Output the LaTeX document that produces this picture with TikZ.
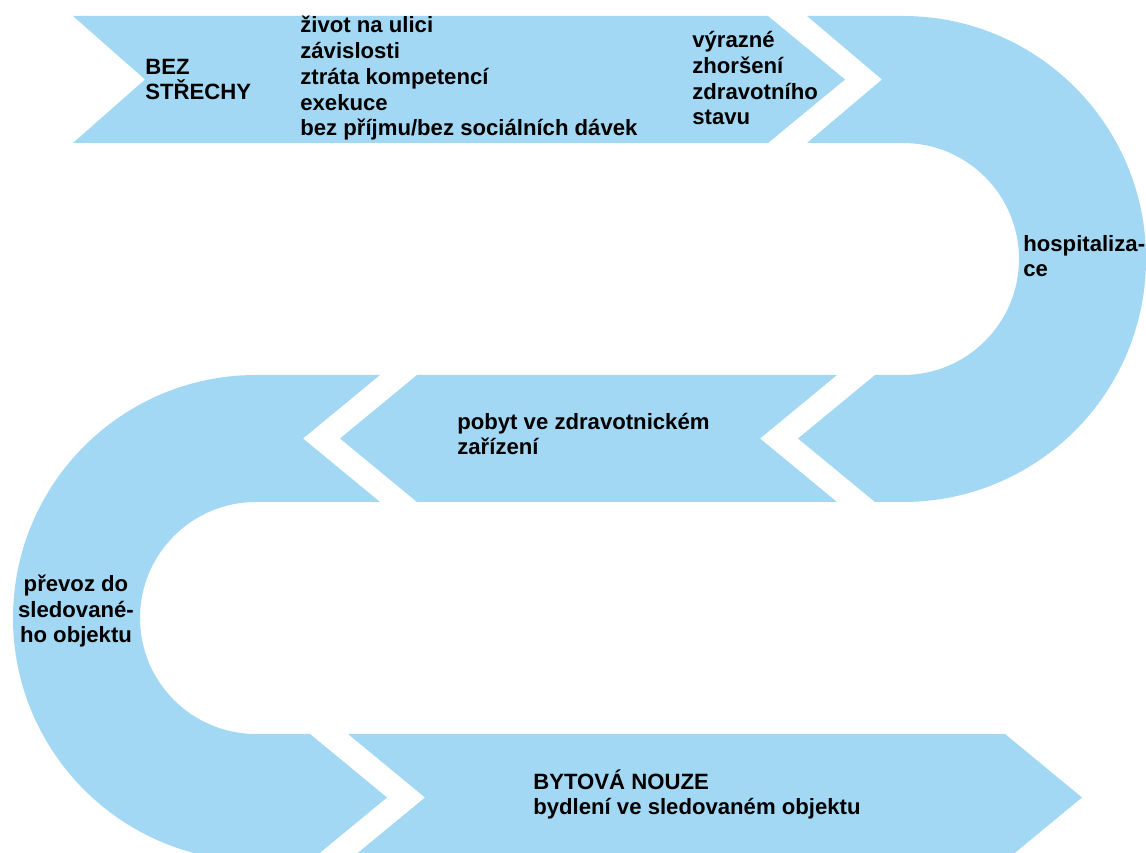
\documentclass[tikz,border=0pt]{standalone}
\usepackage{fontspec}
\setmainfont{Liberation Sans}
\definecolor{bandblue}{RGB}{163,216,244}
\tikzset{
  band/.style={fill=bandblue, draw=none},
  label/.style={inner sep=0pt, anchor=base west, align=left,
    font=\fontsize{12.6}{14.7}\selectfont\bfseries}
}
\begin{document}
\begin{tikzpicture}[x=0.02cm, y=0.02cm]
  \useasboundingbox (0,0) rectangle (1146,852);
  \begin{scope}
    \fill[band] (73,836) -- (768,836) -- (845,772.5) -- (768,709) -- (73,709) -- (145,772.5) -- cycle;
    \fill[band] (807,836) -- (903,836) arc[start angle=90, end angle=-90, radius=243]
      -- (875,350) -- (798,413.5) -- (875,477) -- (903,477)
      arc[start angle=-90, end angle=90, radius=116] -- (807,709) -- (882,772.5) -- cycle;
    \fill[band] (837,477) -- (417,477) -- (340,413.5) -- (417,350) -- (837,350) -- (760,413.5) -- cycle;
    \fill[band] (380,477) -- (256,477) arc[start angle=90, end angle=270, radius=243]
      -- (310,-9) -- (387,54.5) -- (310,118) -- (256,118)
      arc[start angle=270, end angle=90, radius=116] -- (380,350) -- (303,413.5) -- cycle;
    \fill[band] (348,118) -- (1005,118) -- (1082,54.5) -- (1005,-9) -- (348,-9) -- (425,54.5) -- cycle;
  \end{scope}
  \node[label] (bez) at (145,752) {BEZ\\STŘECHY};
  \node[label] (ulice) at (300,716) {život na ulici\\závislosti\\ztráta kompetencí\\exekuce\\bez příjmu/bez sociálních dávek};
  \node[label] (zhorseni) at (692,727) {výrazné\\zhoršení\\zdravotního\\stavu};
  \node[label] (hosp) at (1023,575) {hospitaliza-\\ce};
  \node[label] (pobyt) at (457,397) {pobyt ve zdravotnickém\\zařízení};
  \node[label, anchor=base, align=center] (prevoz) at (76,209) {převoz do\\sledované-\\ho objektu};
  \node[label] (nouze) at (533,37) {BYTOVÁ NOUZE\\bydlení ve sledovaném objektu};
\end{tikzpicture}
\end{document}
